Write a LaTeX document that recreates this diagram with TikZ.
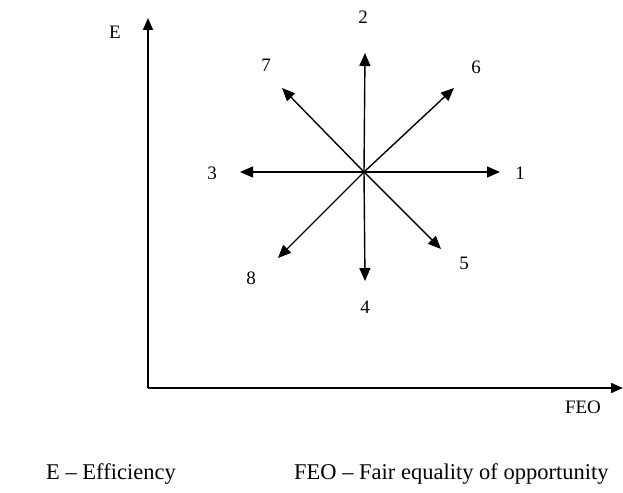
\documentclass[tikz,border=0pt]{standalone}
\usepackage{fontspec}
\setmainfont{Liberation Serif}
\usetikzlibrary{arrows.meta}
\tikzset{
  axisline/.style={line width=1.5pt, -{Triangle[length=12pt,width=10pt]}},
  dirarrow/.style={line width=1.4pt, -{Triangle[length=13pt,width=11pt]}},
  numlabel/.style={font=\fontsize{19}{19}\selectfont, inner sep=0pt},
  axlabel/.style={font=\fontsize{19}{19}\selectfont, inner sep=0pt},
  keytext/.style={font=\fontsize{22.5}{22.5}\selectfont, anchor=west, inner sep=0pt},
}

\begin{document}
\begin{tikzpicture}[x=1pt,y=1pt]
\useasboundingbox (0,0) rectangle (623,492);

% Axes
\coordinate (origin) at (148,104);
\coordinate (etop) at (148,474);
\coordinate (feoend) at (623,104);
\draw[axisline] (origin) -- (etop);
\draw[axisline] (origin) -- (feoend);
\node[axlabel] (elabel) at (115,460) {E};
\node[axlabel] (feolabel) at (583,85) {FEO};

% Centre of the star and arrow tips
\coordinate (ctr) at (364,320);
\coordinate (tip1) at (500,320);
\coordinate (tip2) at (365,439);
\coordinate (tip3) at (240,320);
\coordinate (tip4) at (365,211);
\coordinate (tip5) at (441,243);
\coordinate (tip6) at (454,404);
\coordinate (tip7) at (282,404);
\coordinate (tip8) at (278,234);

\foreach \i in {1,...,8}
  \draw[dirarrow] (ctr) -- (tip\i);

% Direction numbers
\node[numlabel] (n1) at (520,319) {1};
\node[numlabel] (n2) at (363,475) {2};
\node[numlabel] (n3) at (212,319) {3};
\node[numlabel] (n4) at (365,185) {4};
\node[numlabel] (n5) at (464,229) {5};
\node[numlabel] (n6) at (476,425) {6};
\node[numlabel] (n7) at (266,427) {7};
\node[numlabel] (n8) at (251,214) {8};

% Key
\node[keytext] (keye) at (46,18) {E -- Efficiency};
\node[keytext] (keyfeo) at (294,18) {FEO -- Fair equality of opportunity};

\end{tikzpicture}
\end{document}
